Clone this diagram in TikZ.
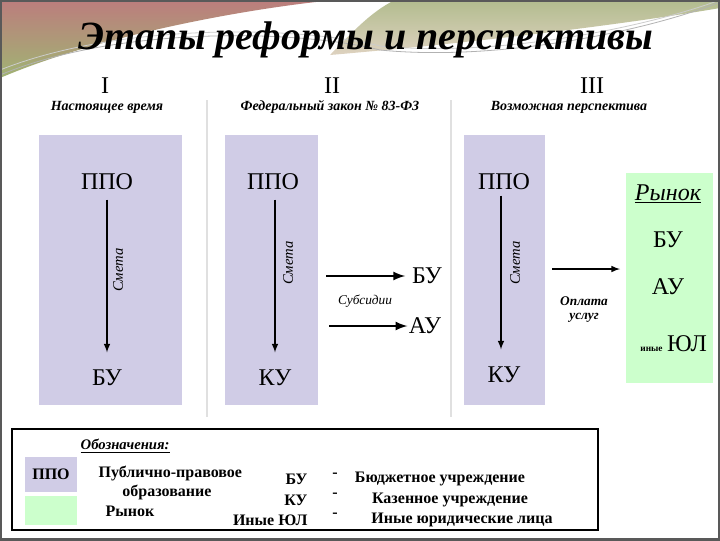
\documentclass[tikz,border=0pt]{standalone}
\usepackage{fontspec}
\setmainfont{Liberation Serif}
\usetikzlibrary{arrows,calc}
\definecolor{ppo}{RGB}{208,204,230}
\definecolor{rynok}{RGB}{204,255,204}
\newcommand\fsz[1]{\fontsize{#1}{#1}\selectfont}
\tikzset{
  pane/.style={fill=ppo,draw=white,line width=1pt},
  lbl/.style={font=\fsz{18pt},inner sep=1pt},
  smeta/.style={font=\itshape\fsz{11pt},rotate=90,inner sep=1pt},
  arr/.style={-latex,line width=1.2pt},
  harr/.style={-latex,line width=2pt},
  legtxt/.style={font=\bfseries\fsz{12pt},inner sep=1pt},
  sub/.style={font=\bfseries\itshape\fsz{10.5pt},inner sep=1pt}
}
\begin{document}
\begin{tikzpicture}[x=0.75pt,y=-0.75pt]
    \useasboundingbox (0,0) rectangle (720,540);
    \fill[white] (0,0) rectangle (720,540);
    % top swoosh
    \shade[top color={rgb,255:red,188;green,125;blue,125},middle color={rgb,255:red,196;green,168;blue,150},bottom color={rgb,255:red,160;green,180;blue,115}]
      (0,0) -- (335,0) .. controls (250,8) and (100,35) .. (0,78) -- cycle;
    \shade[top color={rgb,255:red,178;green,188;blue,142},bottom color={rgb,255:red,222;green,210;blue,192}]
      (395,0) -- (720,0) -- (720,8) .. controls (620,25) and (480,42) .. (330,55) .. controls (350,35) and (370,12) .. (395,0) -- cycle;
    \draw[gray!60,line width=0.6pt] (0,75) .. controls (120,25) and (300,30) .. (380,50) .. controls (500,62) and (650,30) .. (720,2);
    \draw[gray!40,line width=0.6pt] (0,70) .. controls (120,22) and (300,26) .. (380,46) .. controls (500,58) and (650,26) .. (720,0);
    \draw[black!65,line width=3pt] (0,0) rectangle (720,540);

    \node (title) at (366,40) {\bfseries\itshape\fsz{30pt}Этапы реформы и перспективы};
    \node[lbl] (st1) at (105,86) {I};
    \node[lbl] (st2) at (332,86) {II};
    \node[lbl] (st3) at (592,86) {III};
    \node[sub] (sb1) at (107,107) {Настоящее время};
    \node[sub] (sb2) at (330,107) {Федеральный закон № 83-ФЗ};
    \node[sub] (sb3) at (569,107) {Возможная перспектива};

    \draw[black!12,line width=2pt] (207,100) -- (207,417);
    \draw[black!12,line width=2pt] (451,100) -- (451,417);

    % panels
    \filldraw[pane] (38,134) rectangle (183,406);
    \filldraw[pane] (224,134) rectangle (319,406);
    \filldraw[pane] (463,134) rectangle (546,406);
    \fill[rynok] (626,173) rectangle (713,383);

    \node[lbl] (ppo1) at (107,182) {ППО};
    \node[lbl] (bu1) at (107,378) {БУ};
    \draw[arr,shorten <=6pt,shorten >=12pt] (ppo1) -- (bu1);
    \node[smeta] at (118,270) {Смета};

    \node[lbl] (ppo2) at (273,182) {ППО};
    \node[lbl] (ku2) at (275,378) {КУ};
    \draw[arr,shorten <=6pt,shorten >=12pt] (ppo2.south -| ku2) -- (ku2);
    \node[smeta] at (288,263) {Смета};

    \coordinate (s1) at (326,276);
    \coordinate (s2) at (329,326);
    \node[lbl] (mbu) at (427,276) {БУ};
    \node[lbl] (mau) at (425,326) {АУ};
    \draw[harr,shorten >=4pt] (s1) -- (mbu);
    \draw[harr] (s2) -- (mau);
    \node[font=\itshape\fsz{10pt}] (subs) at (365,301) {Субсидии};

    \node[lbl] (ppo3) at (504,182) {ППО};
    \node[lbl] (ku3) at (504,375) {КУ};
    \draw[arr,shorten <=3pt,shorten >=12pt] ($(ppo3.south)+(-3,0)$) -- ($(ku3.north)+(-3,0)$);
    \node[smeta] at (515,263) {Смета};

    \coordinate (o1) at (552,269);
    \coordinate (o2) at (620,269);
    \draw[arr] (o1) -- (o2);
    \node[font=\bfseries\itshape\fsz{10pt}] (opl) at (584,301) {Оплата};
    \node[font=\bfseries\itshape\fsz{10pt}] (usl) at (584,318) {услуг};

    \node[lbl] (ryn) at (668,194) {\itshape\underline{Рынок}};
    \node[lbl] (rbu) at (668,240) {БУ};
    \node[lbl] (rau) at (668,287) {АУ};
    \node[lbl] (ryul) at (687,344) {ЮЛ};
    \node[anchor=base east,font=\bfseries\fsz{7pt},inner sep=2pt] at (ryul.base west) {иные};

    % legend
    \draw[black,line width=0.8pt] (12,429) rectangle (598,530);
    \node[anchor=west,font=\bfseries\itshape\fsz{11pt}] (obz) at (76,446) {\underline{Обозначения:}};
    \fill[ppo] (25,457) rectangle (77,492);
    \fill[rynok] (25,496) rectangle (77,525);
    \node[legtxt] (lppo) at (51,474) {ППО};
    \node[legtxt,anchor=west] (l1) at (97,473) {Публично-правовое};
    \node[legtxt] (l2) at (167,492) {образование};
    \node[legtxt] (l3) at (130,511) {Рынок};
    \node[legtxt,anchor=east] (k1) at (309,479) {БУ};
    \node[legtxt,anchor=east] (k2) at (309,500) {КУ};
    \node[legtxt,anchor=east] (k3) at (309,520) {Иные ЮЛ};
    \node[legtxt] (d1) at (335,475) {-};
    \node[legtxt] (d2) at (335,495) {-};
    \node[legtxt] (d3) at (335,515) {-};
    \node[legtxt] (v1) at (440,479) {Бюджетное учреждение};
    \node[legtxt] (v2) at (450,500) {Казенное учреждение};
    \node[legtxt] (v3) at (462,520) {Иные юридические лица};
\end{tikzpicture}
\end{document}
